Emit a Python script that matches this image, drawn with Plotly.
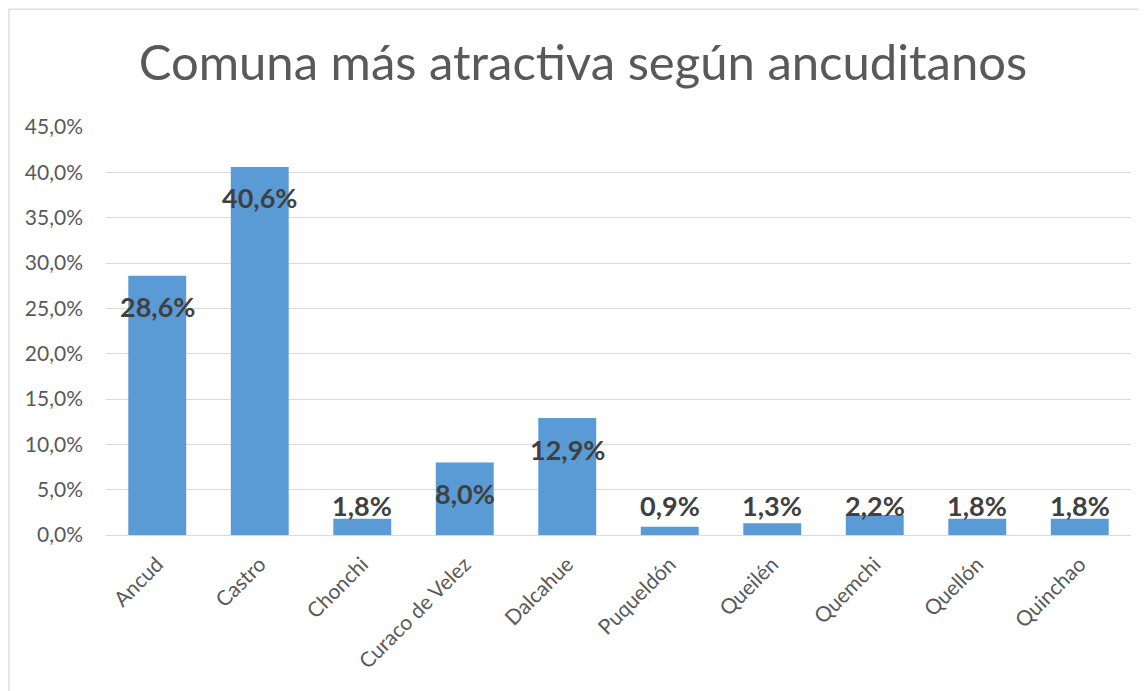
import plotly.graph_objects as go

categories = ["Ancud", "Castro", "Chonchi", "Curaco de Velez", "Dalcahue",
              "Puqueldón", "Queilén", "Quemchi", "Quellón", "Quinchao"]
values = [28.6, 40.6, 1.8, 8.0, 12.9, 0.9, 1.3, 2.2, 1.8, 1.8]
y_ticks = [0, 5, 10, 15, 20, 25, 30, 35, 40, 45]
title_text = "Comuna más atractiva según ancuditanos"


def pct(v):
    return f"{v:.1f}".replace(".", ",") + "%"


FONT = "Lato"
fig = go.Figure()
fig.add_trace(go.Bar(
    x=categories, y=values, marker=dict(color="#5B9BD5", line=dict(width=0)),
    width=0.565, hoverinfo="skip"))

# data labels at "inside end", kept above the baseline for short bars
for c, v in zip(categories, values):
    fig.add_annotation(x=c, y=max(v - 3.42, 3.3), xref="x", yref="y",
                       text="<b>" + pct(v) + "</b>",
                       showarrow=False, font=dict(family=FONT, size=27, color="#404040"),
                       yanchor="middle")

fig.add_shape(type="rect", xref="paper", yref="paper", x0=-97 / 1025, x1=1.2,
              y0=-0.6, y1=1.289, line=dict(color="#D9D9D9", width=1.3),
              fillcolor="rgba(0,0,0,0)", layer="below")

fig.update_layout(
    width=1147, height=691,
    margin=dict(l=98, r=24, t=119, b=164),
    paper_bgcolor="white", plot_bgcolor="white",
    showlegend=False,
    title=dict(text=title_text, x=575 / 1147, xanchor="center",
               y=1 - 55 / 691, yanchor="middle",
               font=dict(family=FONT, size=49, color="#595959")),
    xaxis=dict(showgrid=False, tickangle=-45, ticks="", showline=False,
               ticklabelstandoff=12,
               tickfont=dict(family=FONT, size=21, color="#595959"),
               range=[-0.5, len(categories) - 0.5]),
    yaxis=dict(range=[0, 45], tickmode="array", tickvals=y_ticks,
               ticktext=[pct(t) for t in y_ticks],
               showgrid=True, gridcolor="#D9D9D9", gridwidth=1.3,
               zeroline=True, zerolinecolor="#D9D9D9", zerolinewidth=1.3,
               ticks="", ticklabelstandoff=22,
               tickfont=dict(family=FONT, size=21, color="#595959")),
)
fig.write_html("out.html")
